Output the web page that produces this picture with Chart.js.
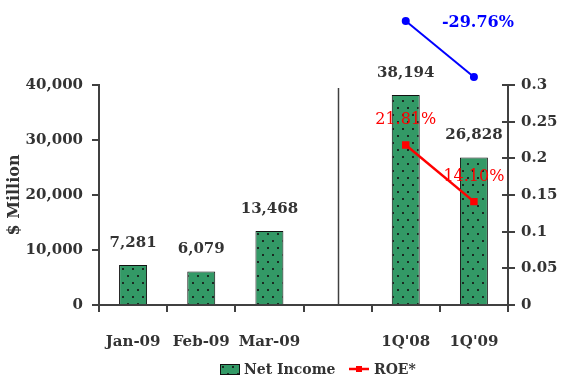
<!DOCTYPE html>
<html>
<head>
<meta charset="utf-8">
<script src="https://cdn.jsdelivr.net/npm/chart.js@4.4.0/dist/chart.umd.min.js"></script>
<style>
  html, body { margin: 0; padding: 0; background: #fff; }
</style>
</head>
<body>
<canvas id="incomeChart" width="562" height="382"></canvas>
<script>
// ── Data ──
const categories = ["Jan-09", "Feb-09", "Mar-09", "", "1Q'08", "1Q'09"];
const netIncome = [7281, 6079, 13468, null, 38194, 26828];
const roe = [null, null, null, null, 0.2181, 0.141];
const incomeTicks = [0, 10000, 20000, 30000, 40000];
const roeTicks = [0, 0.05, 0.1, 0.15, 0.2, 0.25, 0.3];

// quarter-on-quarter change of net income (1Q'08 -> 1Q'09)
const quarterIdx = [4, 5];
const changeLine = netIncome.map((v, i) => (quarterIdx.includes(i) ? v : null));
const changePct = (netIncome[5] / netIncome[4] - 1) * 100;

const COLORS = {
  bar: "#339966",
  dot: "#1a2a22",
  text: "#333",
  axis: "#404040",
  roe: "#ff0000",
  change: "#0000ff",
};

const FONT = "'DejaVu Serif', 'Liberation Serif', serif";

// ── Helpers ──

function dotPattern() {
  const c = document.createElement("canvas");
  c.width = 10;
  c.height = 14;
  const g = c.getContext("2d");
  g.fillStyle = COLORS.bar;
  g.fillRect(0, 0, 10, 14);
  g.fillStyle = COLORS.dot;
  g.fillRect(2, 2, 2, 2);
  g.fillRect(7, 9, 2, 2);
  return g.createPattern(c, "repeat");
}

function fmtThousands(v) {
  return Number(v).toLocaleString("en-US");
}

const barFill = dotPattern();

// ── Extra drawing: value labels, separator, inner ticks, legend ──

const decorations = {
  id: "decorations",
  afterDraw(chart) {
    const { ctx, chartArea, scales } = chart;
    const x = scales.x;
    const yL = scales.y;
    const yR = scales.yRoe;
    const yC = scales.yChange;

    ctx.save();

    // separator between months and quarters
    ctx.strokeStyle = COLORS.axis;
    ctx.lineWidth = 1.5;
    const sx = Math.round(x.getPixelForValue(3)) + 0.5;
    ctx.beginPath();
    ctx.moveTo(sx, chartArea.top + 3);
    ctx.lineTo(sx, chartArea.bottom);
    ctx.stroke();

    // right axis ticks cross into the plot
    ctx.lineWidth = 2;
    roeTicks.forEach((t) => {
      const py = Math.round(yR.getPixelForValue(t));
      ctx.beginPath();
      ctx.moveTo(chartArea.right - 6, py);
      ctx.lineTo(chartArea.right, py);
      ctx.stroke();
    });

    // change connector points sit above the plot, so draw them here
    ctx.fillStyle = COLORS.change;
    chart.getDatasetMeta(2).data.forEach((p) => {
      if (p.skip) return;
      ctx.beginPath();
      ctx.arc(p.x, p.y, 4, 0, Math.PI * 2);
      ctx.fill();
    });

    ctx.textAlign = "center";
    ctx.textBaseline = "middle";

    // net income labels
    ctx.font = "bold 15px " + FONT;
    ctx.fillStyle = COLORS.text;
    netIncome.forEach((v, i) => {
      if (v == null) return;
      ctx.fillText(fmtThousands(v), x.getPixelForValue(i), yL.getPixelForValue(v) - 22);
    });

    // ROE labels
    ctx.font = "16px " + FONT;
    ctx.fillStyle = COLORS.roe;
    roe.forEach((v, i) => {
      if (v == null) return;
      ctx.fillText((v * 100).toFixed(2) + "%", x.getPixelForValue(i), yR.getPixelForValue(v) - 25);
    });

    // change label
    ctx.font = "bold 16px " + FONT;
    ctx.fillStyle = COLORS.change;
    ctx.fillText(
      changePct.toFixed(2) + "%",
      x.getPixelForValue(quarterIdx[1]) + 4,
      yC.getPixelForValue(changeLine[quarterIdx[0]]) + 2
    );

    // legend
    const ly = 369;
    ctx.fillStyle = barFill;
    ctx.fillRect(220, ly - 5, 19, 10);
    ctx.strokeStyle = "#111";
    ctx.lineWidth = 1;
    ctx.strokeRect(220.5, ly - 4.5, 19, 10);
    ctx.font = "bold 14px " + FONT;
    ctx.fillStyle = COLORS.text;
    ctx.textAlign = "left";
    ctx.fillText("Net Income", 244, ly + 1);

    ctx.strokeStyle = COLORS.roe;
    ctx.lineWidth = 2.5;
    ctx.beginPath();
    ctx.moveTo(349, ly);
    ctx.lineTo(369, ly);
    ctx.stroke();
    ctx.fillStyle = COLORS.roe;
    ctx.fillRect(356, ly - 3, 6, 6);
    ctx.fillStyle = COLORS.text;
    ctx.fillText("ROE*", 374, ly + 1);

    ctx.restore();
  },
};

// ── Chart ──

Chart.defaults.font.family = FONT;
Chart.defaults.color = COLORS.text;

new Chart(document.getElementById("incomeChart"), {
  type: "bar",
  data: {
    labels: categories,
    datasets: [
      {
        label: "Net Income",
        data: netIncome,
        backgroundColor: barFill,
        borderColor: "#111",
        borderWidth: 1,
        barPercentage: 0.41,
        categoryPercentage: 1,
        yAxisID: "y",
        order: 3,
      },
      {
        type: "line",
        label: "ROE*",
        data: roe,
        borderColor: COLORS.roe,
        backgroundColor: COLORS.roe,
        borderWidth: 2.5,
        pointStyle: "rect",
        pointRadius: 3.5,
        yAxisID: "yRoe",
        order: 1,
      },
      {
        type: "line",
        label: "Change",
        data: changeLine,
        borderColor: COLORS.change,
        backgroundColor: COLORS.change,
        borderWidth: 2,
        pointRadius: 0,
        yAxisID: "yChange",
        clip: false,
        order: 2,
      },
    ],
  },
  options: {
    responsive: false,
    animation: false,
    layout: { padding: { top: 85 } },
    plugins: {
      legend: { display: false },
      tooltip: { enabled: false },
    },
    scales: {
      x: {
        grid: {
          drawOnChartArea: false,
          tickLength: 7,
          color: COLORS.axis,
          lineWidth: 2,
        },
        border: { color: COLORS.axis, width: 2 },
        ticks: {
          font: { size: 15, weight: "bold" },
          color: COLORS.text,
          padding: 21,
          maxRotation: 0,
          autoSkip: false,
        },
        afterFit(scale) {
          scale.height = 77;
        },
      },
      y: {
        position: "left",
        min: 0,
        max: 40000,
        afterBuildTicks(scale) {
          scale.ticks = incomeTicks.map((value) => ({ value }));
        },
        grid: {
          drawOnChartArea: false,
          tickLength: 7,
          color: COLORS.axis,
          lineWidth: 2,
        },
        border: { color: COLORS.axis, width: 2 },
        ticks: {
          font: { size: 15, weight: "bold" },
          color: COLORS.text,
          padding: 9,
          callback: (v) => fmtThousands(v),
        },
        title: {
          display: true,
          text: "$ Million",
          font: { size: 16, weight: "bold" },
          color: COLORS.text,
          padding: { top: 5, bottom: 0 },
        },
        afterFit(scale) {
          scale.width = 99;
        },
      },
      yRoe: {
        position: "right",
        min: 0,
        max: 0.3,
        afterBuildTicks(scale) {
          scale.ticks = roeTicks.map((value) => ({ value }));
        },
        grid: {
          drawOnChartArea: false,
          tickLength: 7,
          color: COLORS.axis,
          lineWidth: 2,
        },
        border: { color: COLORS.axis, width: 2 },
        ticks: {
          font: { size: 15, weight: "bold" },
          color: COLORS.text,
          padding: 6,
          callback: (v) => String(+Number(v).toFixed(2)),
        },
        afterFit(scale) {
          scale.width = 54;
        },
      },
      // hidden axis that lifts the change connector above the plot
      yChange: {
        display: false,
        min: -19450,
        max: 25200,
      },
    },
  },
  plugins: [decorations],
});
</script>
</body>
</html>
